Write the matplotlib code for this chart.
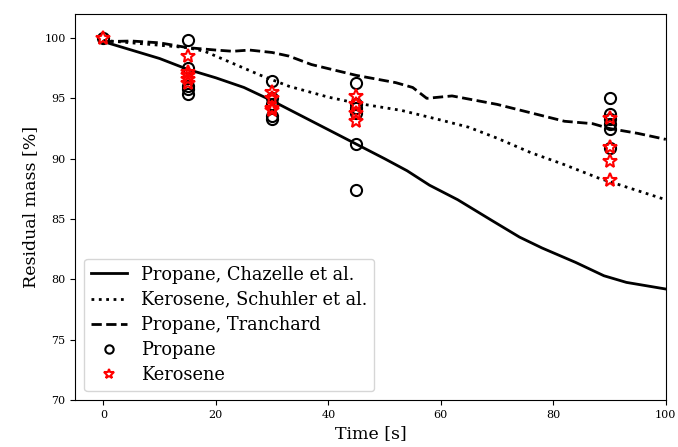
import matplotlib
matplotlib.use("Agg")
import matplotlib.pyplot as plt

plt.rcParams['font.family'] = 'DejaVu Serif'

# model curves
t_chazelle = [0, 5, 10, 15, 20, 25, 30, 35, 40, 45, 50, 54, 58, 63, 69, 74, 78, 84, 89, 93, 100]
m_chazelle = [99.7, 99.0, 98.3, 97.4, 96.7, 95.9, 94.8, 93.6, 92.4, 91.2, 90.0, 89.0, 87.8, 86.6, 84.9, 83.5, 82.6, 81.4, 80.3, 79.75, 79.2]

t_schuhler = [0, 5, 10, 15, 18, 23, 28, 33, 40, 45, 53, 60, 65, 70, 76, 82, 88, 94, 100]
m_schuhler = [99.8, 99.6, 99.4, 99.2, 98.9, 97.9, 96.9, 96.0, 95.1, 94.6, 94.0, 93.2, 92.6, 91.7, 90.5, 89.5, 88.4, 87.5, 86.6]

t_tranchard = [0, 5, 10, 15, 20, 23, 26, 30, 33, 37, 45, 52, 55, 57.5, 62, 70, 76, 82, 87, 90, 95, 100]
m_tranchard = [99.7, 99.75, 99.6, 99.2, 99.0, 98.9, 99.0, 98.8, 98.5, 97.8, 96.9, 96.3, 95.9, 95.0, 95.2, 94.5, 93.8, 93.1, 92.9, 92.5, 92.1, 91.6]

# measurements
t_propane = [0, 15, 15, 15, 15, 15, 30, 30, 30, 30, 30, 45, 45, 45, 45, 45, 45, 90, 90, 90, 90, 90, 90]
m_propane = [100, 99.8, 97.5, 96.0, 95.8, 95.4, 96.4, 95.0, 94.5, 93.5, 93.3,
             96.3, 94.5, 94.2, 93.8, 91.2, 87.4, 95.0, 93.7, 93.3, 92.9, 92.5, 90.9]

t_kerosene = [0, 15, 15, 15, 15, 15, 30, 30, 30, 30, 45, 45, 45, 45, 90, 90, 90, 90]
m_kerosene = [100, 98.5, 97.2, 96.9, 96.6, 96.3, 95.5, 95.0, 94.2, 94.0,
              95.2, 94.5, 93.8, 93.1, 93.4, 91.0, 89.8, 88.2]

fig = plt.figure(figsize=(6.78, 4.47), dpi=100)
ax = fig.add_axes([0.111, 0.105, 0.871, 0.864])

ax.plot(t_chazelle, m_chazelle, 'k-', lw=2, label='Propane, Chazelle et al.')
ax.plot(t_schuhler, m_schuhler, 'k:', lw=2, label='Kerosene, Schuhler et al.')
ax.plot(t_tranchard, m_tranchard, 'k--', lw=2, label='Propane, Tranchard')
ax.plot(t_propane, m_propane, 'o', ls='none', mfc='none', mec='k', mew=1.5, ms=8, label='Propane')
ax.plot(t_kerosene, m_kerosene, '*', ls='none', mfc='none', mec='r', mew=1.5, ms=10, label='Kerosene')

ax.set_xlim(-5, 100)
ax.set_ylim(70, 102)
ax.set_xticks([0, 20, 40, 60, 80, 100])
ax.set_yticks([70, 75, 80, 85, 90, 95, 100])
ax.tick_params(labelsize=8)
ax.set_xlabel('Time [s]', fontsize=12.5)
ax.set_ylabel('Residual mass [%]', fontsize=12.5)
ax.legend(loc='lower left', fontsize=12.8, handlelength=2.0, labelspacing=0.4,
          markerscale=0.75)

fig.savefig('out.png', dpi=100)
